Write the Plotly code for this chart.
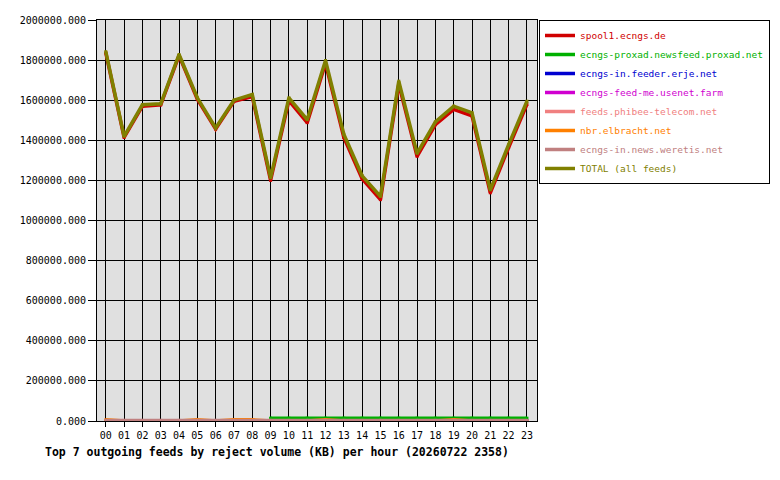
import plotly.graph_objects as go

hours = ["%02d" % h for h in range(24)]

feeds = [
    "spool1.ecngs.de",
    "ecngs-proxad.newsfeed.proxad.net",
    "ecngs-in.feeder.erje.net",
    "ecngs-feed-me.usenet.farm",
    "feeds.phibee-telecom.net",
    "nbr.elbracht.net",
    "ecngs-in.news.weretis.net",
    "TOTAL (all feeds)",
]
colors = ["#d00000", "#00b000", "#0000d0", "#d000d0", "#f08080", "#ff8000", "#c08080", "#808000"]

# reject volume in KB per hour
spool1 = [1836000, 1414000, 1570000, 1577000, 1822000, 1605000, 1456000, 1594000, 1618000,
          1200000, 1598000, 1488000, 1784000, 1414000, 1208000, 1104000, 1680000, 1320000,
          1478000, 1554000, 1522000, 1138000, 1364000, 1580000]
proxad = [None] * 9 + [14000] * 15
erje = [0] * 24
usenet_farm = [0] * 24
phibee = [0] * 24
elbracht = [6000, 0, 0, 0, 0, 6000, 0, 6000, 6000, 0, 0, 0, 6000, 0, 0, 0, 0, 0,
            0, 6000, 0, 0, 0, 0]
weretis = [3000] * 24
total = [1842000, 1420000, 1577000, 1582000, 1828000, 1612000, 1462000, 1600000, 1628000,
         1213000, 1612000, 1503000, 1798000, 1430000, 1223000, 1120000, 1695000, 1335000,
         1492000, 1570000, 1537000, 1153000, 1378000, 1595000]

series = [spool1, proxad, erje, usenet_farm, phibee, elbracht, weretis, total]

mono = "DejaVu Sans Mono"

fig = go.Figure()
for name, col, vals in zip(feeds, colors, series):
    fig.add_trace(go.Scatter(
        x=hours, y=vals,
        mode="lines+markers",
        name="<span style='color:%s'>%s</span>" % (col, name),
        line=dict(color=col, width=3.5),
        marker=dict(color=col, size=3, symbol="square"),
        connectgaps=False,
    ))

# the page body adds 8px around the figure, so the figure is 8px smaller
# and the margins are shifted by that
fig.update_layout(
    width=772, height=472,
    margin=dict(l=89, r=243, t=12, b=59, autoexpand=False),
    paper_bgcolor="white",
    plot_bgcolor="#e0e0e0",
    font=dict(family=mono, size=10, color="black"),
    showlegend=True,
    legend=dict(
        x=1.0045, y=1, xanchor="left", yanchor="top",
        bgcolor="white", bordercolor="black", borderwidth=1,
        font=dict(family=mono, size=9.5),
        itemwidth=30,
    ),
    annotations=[dict(
        text="<b>Top 7 outgoing feeds by reject volume (KB) per hour (20260722 2358)</b>",
        xref="paper", yref="paper", x=-0.1227, y=-0.077,
        xanchor="left", yanchor="middle", showarrow=False,
        font=dict(family=mono, size=11.5, color="black"),
    )],
)

fig.update_xaxes(
    type="category", range=[-0.48, 23.55],
    showgrid=True, gridcolor="black", gridwidth=1,
    showline=True, linecolor="black", linewidth=1, mirror=True,
    ticks="outside", ticklen=5, tickcolor="black",
    tickfont=dict(family=mono, size=10, color="black"),
)
fig.update_yaxes(
    range=[0, 2000000], dtick=200000, tickformat=".3f",
    showgrid=True, gridcolor="black", gridwidth=1,
    showline=True, linecolor="black", linewidth=1, mirror=True,
    ticks="outside", ticklen=8, tickcolor="black",
    tickfont=dict(family=mono, size=10, color="black"),
    zeroline=False,
)

fig.write_html("out.html")
